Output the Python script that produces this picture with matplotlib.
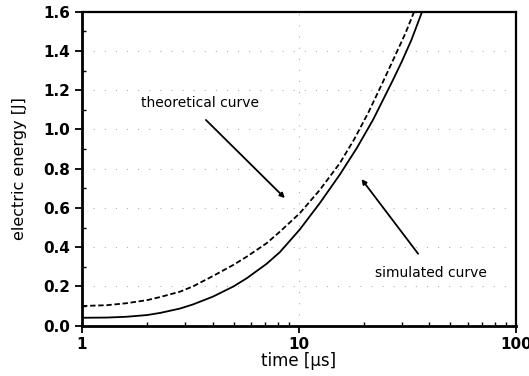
import matplotlib
matplotlib.use("Agg")
import matplotlib.pyplot as plt
from matplotlib.ticker import MultipleLocator, LogLocator, NullFormatter

# time axis (us) and the two energy curves (J)
t_theo = [1.0, 1.3, 1.6, 2.0, 2.3, 2.83, 3.25, 4.02, 5.0, 5.76, 7.1, 8.18, 10.1, 12.5, 15.45, 18.0, 21.0, 24.6, 27.1, 31.0, 34.0]
e_theo = [0.100, 0.104, 0.114, 0.130, 0.146, 0.173, 0.200, 0.253, 0.310, 0.352, 0.420, 0.479, 0.573, 0.692, 0.828, 0.950, 1.090, 1.250, 1.350, 1.490, 1.600]

t_sim = [1.0, 1.3, 1.6, 2.0, 2.3, 2.83, 3.25, 4.02, 5.0, 5.76, 7.1, 8.18, 10.1, 12.5, 15.45, 18.5, 22.0, 27.1, 29.8, 33.0, 37.0]
e_sim = [0.040, 0.041, 0.045, 0.054, 0.065, 0.087, 0.108, 0.148, 0.200, 0.242, 0.315, 0.375, 0.490, 0.625, 0.770, 0.905, 1.050, 1.250, 1.345, 1.455, 1.600]

xticks = [1, 10, 100]
xtick_labels = ["1", "10", "100"]

fig = plt.figure(figsize=(5.29, 3.76), dpi=100)
ax = fig.add_axes([0.155, 0.134, 0.820, 0.835])

ax.plot(t_theo, e_theo, color="black", lw=1.3, linestyle=(0, (3, 1.5)))
ax.plot(t_sim, e_sim, color="black", lw=1.3)

ax.set_xscale("log")
ax.set_xlim(1, 100)
ax.set_ylim(0, 1.6)

ax.xaxis.set_minor_locator(LogLocator(base=10, subs=range(2, 10)))
ax.xaxis.set_minor_formatter(NullFormatter())
ax.set_xticks(xticks)
ax.set_xticklabels(xtick_labels)
ax.yaxis.set_major_locator(MultipleLocator(0.2))
ax.yaxis.set_minor_locator(MultipleLocator(0.1))
ax.yaxis.set_major_formatter(plt.FuncFormatter(lambda v, p: f"{v:.1f}"))

ax.tick_params(which="major", direction="out", length=5, width=1.3, labelsize=11)
ax.tick_params(which="minor", direction="in", length=3, width=1.0)
for lab in ax.get_xticklabels() + ax.get_yticklabels():
    lab.set_fontweight("bold")

for side in ["left", "bottom"]:
    ax.spines[side].set_linewidth(2.0)
for side in ["right", "top"]:
    ax.spines[side].set_linewidth(1.6)

# faint dotted grid
ax.grid(True, which="major", color="#b0b0b0", linestyle=(0, (1, 9)), lw=0.8)

ax.set_xlabel("time [μs]", fontsize=12, labelpad=0)
ax.set_ylabel("electric energy [J]", fontsize=11.5, labelpad=12)

ax.text(3.5, 1.135, "theoretical curve", fontsize=10, ha="center", va="center")
ax.annotate("", xy=(8.8, 0.64), xytext=(3.65, 1.058),
            arrowprops=dict(arrowstyle="-|>", color="black", lw=1.3, mutation_scale=7))

ax.text(40.6, 0.268, "simulated curve", fontsize=10, ha="center", va="center")
ax.annotate("", xy=(19.1, 0.758), xytext=(36.1, 0.355),
            arrowprops=dict(arrowstyle="-|>", color="black", lw=1.3, mutation_scale=7))

fig.savefig("out.png", dpi=100, facecolor="white")
